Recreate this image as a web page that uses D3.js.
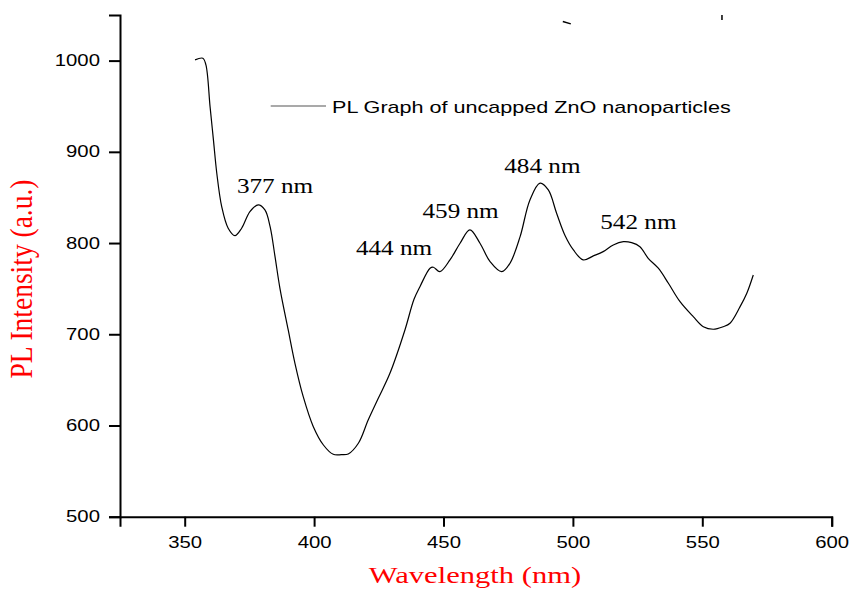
<!DOCTYPE html>
<html>
<head>
<meta charset="utf-8">
<script src="https://cdn.jsdelivr.net/npm/d3@7"></script>
<style>
  body { margin: 0; background: #fff; }
  svg { display: block; }
</style>
</head>
<body>
<script>
// dati (lunghezza d'onda in nm, intensita' PL)
var wavelength = [354.0, 357.0, 358.2, 359.8, 361.1, 362.4, 364.3, 366.8, 369.4, 372.0, 375.2, 378.4,
                  381.0, 383.0, 384.9, 386.8, 390.0, 392.6, 395.8, 399.7, 403.6, 407.4, 410.5, 413.2,
                  417.1, 420.9, 424.8, 429.3, 435.1, 438.6, 440.9, 444.8, 446.1, 448.6, 452.5, 456.4,
                  460.2, 464.1, 468.0, 472.5, 475.7, 479.6, 483.4, 487.3, 490.5, 493.7, 497.0, 500.2,
                  504.0, 507.9, 511.7, 515.6, 519.5, 522.7, 525.9, 529.1, 533.0, 536.9, 541.4, 546.5,
                  550.4, 554.2, 558.1, 560.7, 564.6, 567.2, 569.7];
var intensity  = [1000.8, 1002.6, 995.3, 949.6, 913.1, 876.5, 839.9, 816.2, 808.1, 816.2, 834.4, 841.8,
                  836.3, 818.0, 785.1, 750.4, 704.7, 668.2, 631.6, 598.7, 578.6, 568.4, 568.0, 568.8,
                  580.5, 606.0, 629.8, 657.2, 704.7, 738.4, 752.2, 772.4, 773.5, 768.6, 781.5, 799.8,
                  814.4, 799.8, 779.6, 768.6, 777.9, 807.0, 847.3, 865.6, 858.2, 832.7, 808.0, 792.4,
                  781.5, 785.9, 790.6, 797.9, 801.5, 800.4, 796.0, 783.3, 772.4, 755.9, 735.7, 719.3,
                  708.3, 705.5, 708.3, 712.1, 730.3, 745.0, 765.0];

// etichette dei picchi (testo, posizione in unita' del grafico)
var peakLabels = ["377 nm", "444 nm", "459 nm", "484 nm", "542 nm"];
var peakX      = [384.9, 430.9, 456.6, 488.2, 525.3];
var peakY      = [854.6, 787.0, 827.2, 876.5, 815.1];

// tick degli assi
var xTicks      = [350, 400, 450, 500, 550, 600];
var xMinorTicks = [325, 375, 425, 475, 525, 575];
var yTicks      = [500, 600, 700, 800, 900, 1000];
var yMinorTicks = [550, 650, 750, 850, 950, 1050];

// segnetti spuri in alto nell'immagine originale
var strayX = [[496.1, 499.2], [557.6, 557.6]];
var strayY = [[1042.8, 1040.3], [1050, 1044.6]];

var legendText = "PL Graph of uncapped ZnO nanoparticles";

var w = 850;
var h = 592;
var stretch = 1.27;   // il grafico originale e' allargato in orizzontale

var x = d3.scaleLinear().domain([325, 600]).range([120, 831.7]);
var y = d3.scaleLinear().domain([500, 1050]).range([516.7, 15]);

var svg = d3.select("body")
            .append("svg")
            .attr("width", w)
            .attr("height", h);

// asse x: tick principali e secondari
var gx = svg.append("g")
    .attr("transform", "translate(0," + y(500) + ")");
gx.call(d3.axisBottom(x).tickValues(xMinorTicks).tickSize(5).tickFormat(""));
gx.call(d3.axisBottom(x).tickValues(xTicks).tickSize(10).tickPadding(10).tickFormat(d3.format("d")));

// asse y
var gy = svg.append("g")
    .attr("transform", "translate(" + x(325) + ",0)");
gy.call(d3.axisLeft(y).tickValues(yMinorTicks).tickSize(6).tickFormat(""));
gy.call(d3.axisLeft(y).tickValues(yTicks).tickSize(11).tickPadding(4.8).tickFormat(d3.format("d")));

svg.selectAll(".domain")
   .attr("stroke", "#000")
   .attr("stroke-width", 2);
svg.selectAll(".tick line")
   .attr("stroke", "#000")
   .attr("stroke-width", 2);
svg.selectAll(".tick text")
   .attr("fill", "#000")
   .attr("font-family", "Liberation Sans, Arial, sans-serif")
   .attr("font-size", 16)
   .attr("transform", "scale(" + stretch + ",1)");

// curva PL
var points = wavelength.map(function(d, i) { return [d, intensity[i]]; });
var line = d3.line()
    .x(function(d) { return x(d[0]); })
    .y(function(d) { return y(d[1]); })
    .curve(d3.curveCatmullRom.alpha(0.5));

svg.append("path")
   .datum(points)
   .attr("fill", "none")
   .attr("stroke", "#000")
   .attr("stroke-width", 1.2)
   .attr("d", line);

// segnetti spuri
strayX.forEach(function(sx, i) {
    svg.append("line")
       .attr("x1", x(sx[0])).attr("y1", y(strayY[i][0]))
       .attr("x2", x(sx[1])).attr("y2", y(strayY[i][1]))
       .attr("stroke", "#000")
       .attr("stroke-width", 1.5);
});

// etichette dei picchi
peakLabels.forEach(function(t, i) {
    svg.append("text")
       .attr("transform", "translate(" + x(peakX[i]) + "," + y(peakY[i]) + ") scale(1.2,1)")
       .attr("text-anchor", "middle")
       .attr("font-family", "Liberation Serif, Times New Roman, serif")
       .attr("font-size", 21)
       .attr("fill", "#000")
       .text(t);
});

// legenda
svg.append("line")
   .attr("x1", 270.7).attr("x2", 326)
   .attr("y1", 106).attr("y2", 106)
   .attr("stroke", "#555")
   .attr("stroke-width", 1.2);
svg.append("text")
   .attr("transform", "translate(332,113) scale(" + stretch + ",1)")
   .attr("font-family", "Liberation Sans, Arial, sans-serif")
   .attr("font-size", 17)
   .attr("fill", "#000")
   .text(legendText);

// titoli degli assi
svg.append("text")
   .attr("transform", "translate(475,583) scale(1.33,1)")
   .attr("text-anchor", "middle")
   .attr("font-family", "Liberation Serif, Times New Roman, serif")
   .attr("font-size", 23)
   .attr("fill", "red")
   .text("Wavelength (nm)");

svg.append("text")
   .attr("transform", "translate(32,279) rotate(-90) scale(1,1.15)")
   .attr("text-anchor", "middle")
   .attr("font-family", "Liberation Serif, Times New Roman, serif")
   .attr("font-size", 27.5)
   .attr("fill", "red")
   .text("PL Intensity (a.u.)");
</script>
</body>
</html>
